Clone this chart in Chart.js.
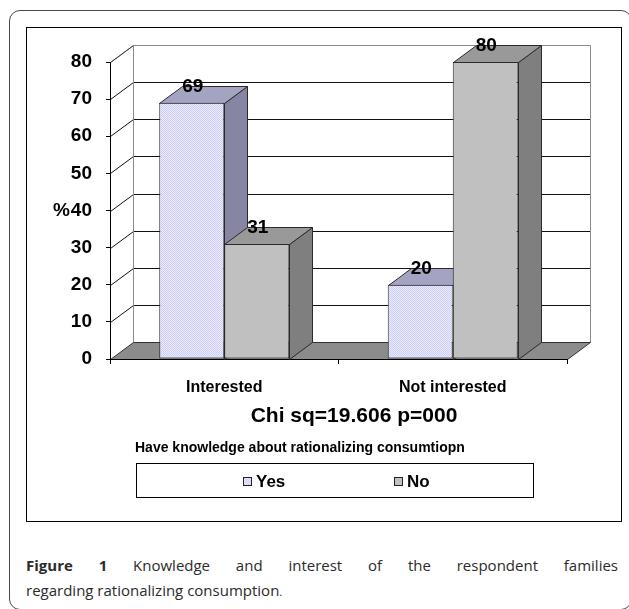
<!DOCTYPE html>
<html>
<head>
<meta charset="utf-8">
<script src="https://cdn.jsdelivr.net/npm/chart.js@4/dist/chart.umd.min.js"></script>
<style>
  html, body { margin: 0; padding: 0; background: #fff; }
  body { width: 629px; height: 609px; position: relative; overflow: hidden; }
  #frame {
    position: absolute; left: 9px; top: 10px; width: 623px; height: 600px;
    border: 1.5px solid #4a4a4a; border-radius: 11px; box-sizing: border-box;
  }
  #panel {
    position: absolute; left: 26px; top: 27px; width: 596px; height: 495px;
    border: 1px solid #000; box-sizing: border-box;
  }
  #chart { position: absolute; left: 0; top: 0; }
  .caption {
    position: absolute; left: 26px; width: 592px;
    font-family: "Open Sans", sans-serif; font-size: 15px; color: #2b2b2b;
    line-height: 20px; white-space: nowrap;
  }
  #cap1 { top: 555px; text-align: justify; text-align-last: justify; white-space: normal; }
  #cap2 { top: 580px; }
  .caption b { font-weight: 700; }
  .dot { font-size: 11px; }
</style>
</head>
<body>
<div id="frame"></div>
<div id="panel"></div>
<canvas id="chart" width="629" height="530"></canvas>
<div class="caption" id="cap1"><b>Figure 1</b> Knowledge and interest of the respondent families</div>
<div class="caption" id="cap2">regarding rationalizing consumption<span class="dot">.</span></div>

<script>
// Survey answers, percent of families
const categories = ['Interested', 'Not interested'];
const seriesNames = ['Yes', 'No'];
const yesValues = [69, 20];
const noValues = [31, 80];
const statText = 'Chi sq=19.606 p=000';
const legendTitle = 'Have knowledge about rationalizing consumtiopn';
const yUnit = '%';
const yMax = 80;
const yStep = 10;

const FONT = '"Liberation Sans", Arial, sans-serif';
const DX = 23, DY = -17;   // depth offset of the 3D look

// light lavender dither used on the "Yes" columns
function makeDither() {
  const c = document.createElement('canvas');
  c.width = 4; c.height = 4;
  const g = c.getContext('2d');
  g.fillStyle = '#E9E9FF';
  g.fillRect(0, 0, 4, 4);
  g.fillStyle = '#CFCFF5';
  [[0,0],[2,0],[1,1],[3,1],[0,2],[2,2],[1,3],[3,3]].forEach(([a,b]) => g.fillRect(a, b, 1, 1));
  return g.createPattern(c, 'repeat');
}
const ditherYes = makeDither();

const faceColors = [
  { top: '#A4A4C2', side: '#8686A4' },
  { top: '#999999', side: '#7F7F7F' }
];

function poly(ctx, pts, fill, stroke) {
  ctx.beginPath();
  pts.forEach(([px, py], i) => i ? ctx.lineTo(px, py) : ctx.moveTo(px, py));
  ctx.closePath();
  if (fill) { ctx.fillStyle = fill; ctx.fill(); }
  if (stroke) { ctx.strokeStyle = stroke; ctx.lineWidth = 1; ctx.stroke(); }
}
function line(ctx, pts, color) {
  ctx.beginPath();
  pts.forEach(([px, py], i) => i ? ctx.lineTo(px, py) : ctx.moveTo(px, py));
  ctx.strokeStyle = color; ctx.lineWidth = 1; ctx.stroke();
}

const box3d = {
  id: 'box3d',
  // walls, floor and back grid behind everything
  beforeDraw(chart) {
    const { ctx, chartArea } = chart;
    const y = chart.scales.y;
    const L = Math.round(chartArea.left) + 0.5, R = Math.round(chartArea.right) + 0.5;
    const T = Math.round(y.getPixelForValue(yMax)) + 0.5;
    const B = Math.round(y.getPixelForValue(0)) + 0.5;
    ctx.save();
    y.ticks.forEach(t => {
      if (t.value === 0) return;
      const py = Math.round(y.getPixelForValue(t.value)) + 0.5;
      const c = t.value === yMax ? '#8c8c8c' : '#111';
      line(ctx, [[L, py], [L + DX, py + DY], [R + DX, py + DY]], c);
    });
    line(ctx, [[L, T], [L + DX, T + DY]], '#333');
    line(ctx, [[L + DX, T + DY], [L + DX, B + DY]], '#8c8c8c');
    line(ctx, [[R + DX, T + DY], [R + DX, B + DY]], '#8c8c8c');
    poly(ctx, [[L, B], [L + DX, B + DY], [R + DX, B + DY], [R, B]], '#8C8C8C', '#333');
    ctx.restore();
  },
  // top and side faces of each column
  beforeDatasetsDraw(chart) {
    const { ctx } = chart;
    ctx.save();
    chart.data.datasets.forEach((ds, i) => {
      chart.getDatasetMeta(i).data.forEach(bar => {
        const l = Math.round(bar.x - bar.width / 2) + 0.5;
        const r = Math.round(bar.x + bar.width / 2) + 0.5;
        const t = Math.round(bar.y) + 0.5, b = Math.round(bar.base) + 0.5;
        poly(ctx, [[r, t], [r + DX, t + DY], [r + DX, b + DY], [r, b]], faceColors[i].side, '#2a2a2a');
        poly(ctx, [[l, t], [l + DX, t + DY], [r + DX, t + DY], [r, t]], faceColors[i].top, '#2a2a2a');
      });
    });
    ctx.restore();
  },
  // value labels above the columns
  afterDatasetsDraw(chart) {
    const { ctx } = chart;
    ctx.save();
    ctx.font = 'bold 19px ' + FONT;
    ctx.fillStyle = '#000';
    ctx.textAlign = 'center';
    ctx.textBaseline = 'middle';
    chart.data.datasets.forEach((ds, i) => {
      chart.getDatasetMeta(i).data.forEach((bar, j) => {
        ctx.fillText(String(ds.data[j]), bar.x + 1, bar.y - 16);
      });
    });
    ctx.restore();
  },
  // unit, statistic, legend
  afterDraw(chart) {
    const { ctx } = chart;
    ctx.save();
    ctx.fillStyle = '#000';
    ctx.textBaseline = 'middle';

    ctx.font = 'bold 19px ' + FONT;
    ctx.textAlign = 'right';
    ctx.fillText(yUnit, 70, 211);

    ctx.font = 'bold 21px ' + FONT;
    ctx.textAlign = 'center';
    ctx.fillText(statText, 354, 416);

    ctx.font = 'bold 14px ' + FONT;
    ctx.textAlign = 'left';
    ctx.fillText(legendTitle, 135, 448);

    ctx.strokeStyle = '#000';
    ctx.lineWidth = 1;
    ctx.strokeRect(136.5, 463.5, 397, 34);

    const items = [{ sx: 243, tx: 256 }, { sx: 394, tx: 407 }];
    ctx.font = 'bold 17px ' + FONT;
    chart.data.datasets.forEach((ds, i) => {
      const it = items[i];
      ctx.fillStyle = i === 0 ? ditherYes : ds.backgroundColor;
      ctx.fillRect(it.sx, 477, 8, 8);
      ctx.strokeStyle = '#222';
      ctx.strokeRect(it.sx + 0.5, 477.5, 8, 8);
      ctx.fillStyle = '#000';
      ctx.fillText(ds.label, it.tx, 482);
    });
    ctx.restore();
  }
};

Chart.defaults.color = '#000';

new Chart(document.getElementById('chart'), {
  type: 'bar',
  data: {
    labels: categories,
    datasets: [
      { label: seriesNames[0], data: yesValues, backgroundColor: ditherYes,
        borderColor: '#2a2a2a', borderWidth: 1, borderSkipped: false },
      { label: seriesNames[1], data: noValues, backgroundColor: '#C0C0C0',
        borderColor: '#2a2a2a', borderWidth: 1, borderSkipped: false }
    ]
  },
  options: {
    responsive: false,
    animation: false,
    events: [],
    barPercentage: 1,
    categoryPercentage: 0.569,
    layout: { padding: { left: 0, right: 62, top: 62, bottom: 131 } },
    plugins: { legend: { display: false }, tooltip: { enabled: false } },
    scales: {
      x: {
        afterFit(s) { s.height = 40; },
        grid: { drawOnChartArea: false, tickLength: 5, color: '#000' },
        border: { color: '#000' },
        ticks: { font: { family: FONT, size: 16, weight: 'bold' }, padding: 14, color: '#000' }
      },
      y: {
        min: 0, max: yMax,
        afterFit(s) { s.width = 110; },
        grid: { drawOnChartArea: false, tickLength: 4, color: '#000' },
        border: { color: '#000' },
        ticks: { stepSize: yStep, font: { family: FONT, size: 19, weight: 'bold' }, padding: 14, color: '#000' }
      }
    }
  },
  plugins: [box3d]
});
</script>
</body>
</html>
